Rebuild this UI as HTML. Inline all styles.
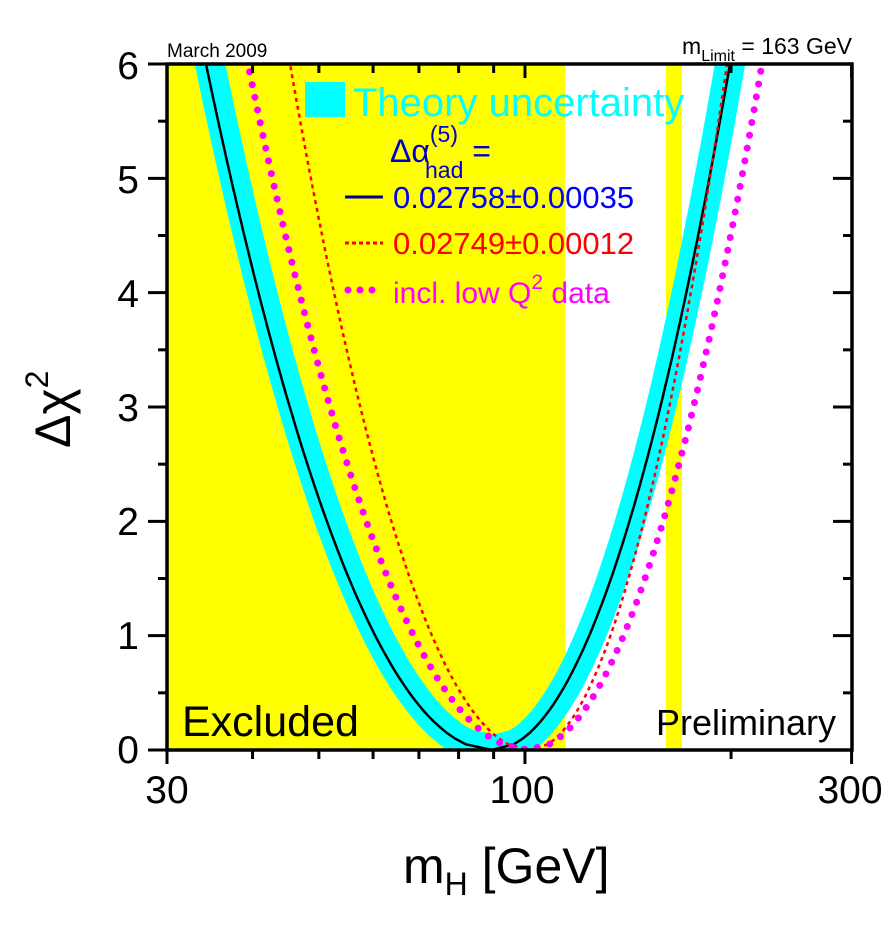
<!DOCTYPE html>
<html><head><meta charset="utf-8"><style>
html,body{margin:0;padding:0;background:#fff;}
svg{display:block;font-family:"Liberation Sans",sans-serif;}
</style></head><body>
<svg id="s" width="894" height="930" viewBox="0 0 894 930" xmlns="http://www.w3.org/2000/svg">
<defs><clipPath id="c"><rect x="167" y="64" width="685" height="686"/></clipPath></defs>
<rect x="167" y="64" width="398" height="686" fill="#ffff00"/>
<rect x="666" y="64" width="16" height="686" fill="#ffff00"/>
<g clip-path="url(#c)" fill="none">
<path id="cy" stroke="#00ffff" stroke-width="30"/>
<path id="bk" stroke="#000" stroke-width="2.5"/>
<path id="rd" stroke="#ff0000" stroke-width="2.5" stroke-dasharray="4,4"/>
<path id="mg" stroke="#ff00ff" stroke-width="7" stroke-linecap="round" stroke-dasharray="0,13"/>
</g>
<rect x="167" y="64" width="685" height="686" fill="none" stroke="#000" stroke-width="3.5"/>
<g id="ticks" stroke="#000" stroke-width="3"></g>
<g font-size="39" text-anchor="end">
<text x="139" y="763">0</text><text x="139" y="649">1</text><text x="139" y="535">2</text>
<text x="139" y="421">3</text><text x="139" y="307">4</text><text x="139" y="193">5</text><text x="139" y="79">6</text>
</g>
<g font-size="39" text-anchor="middle">
<text x="167" y="803">30</text><text x="522" y="803">100</text><text x="850" y="803">300</text>
</g>
<text x="403" y="883" font-size="50">m<tspan font-size="32" dy="12">H</tspan><tspan dy="-12"> [GeV]</tspan></text>
<text transform="translate(70,448) rotate(-90)" font-size="50">Δχ<tspan font-size="32" dy="-22">2</tspan></text>
<text x="167" y="57" font-size="19">March 2009</text>
<text x="852" y="54" font-size="23" text-anchor="end">m<tspan font-size="16" dy="7">Limit</tspan><tspan dy="-7"> = 163 GeV</tspan></text>
<text x="182" y="736" font-size="43">Excluded</text>
<text x="836" y="735" font-size="36" text-anchor="end">Preliminary</text>
<rect x="305" y="82" width="40" height="35" fill="#00ffff"/>
<text x="353" y="116" font-size="40" fill="#00ffff">Theory uncertainty</text>
<text x="390" y="162" font-size="32" fill="#0000cc">Δα<tspan font-size="23" dy="-20">(5)</tspan><tspan font-size="23" dx="-33" dy="36">had</tspan><tspan font-size="32" dy="-16"> =</tspan></text>
<line x1="345" y1="197" x2="383" y2="197" stroke="#000080" stroke-width="3"/>
<text x="393" y="208" font-size="31" fill="#0000ff">0.02758±0.00035</text>
<line x1="345" y1="243" x2="383" y2="243" stroke="#ff0000" stroke-width="3" stroke-dasharray="4,3"/>
<text x="393" y="254" font-size="31" fill="#ff0000">0.02749±0.00012</text>
<line x1="348" y1="290" x2="383" y2="290" stroke="#ff00ff" stroke-width="7" stroke-linecap="round" stroke-dasharray="0,12"/>
<text x="393" y="303" font-size="30" fill="#ff00ff">incl. low Q<tspan font-size="21" dy="-14">2</tspan><tspan dy="14"> data</tspan></text>
</svg>
<script>
function Y(v){return 750-v*114.33;}
function path(c,wl,wr){var d="";for(var v=6.6;v>=0;v-=0.05){var x=c-wl*Math.sqrt(v/6);d+=(d?"L":"M")+x.toFixed(1)+","+Y(v).toFixed(1);}
for(var v=0;v<=6.6;v+=0.05){var x=c+wr*Math.sqrt(v/6);d+="L"+x.toFixed(1)+","+Y(v).toFixed(1);}return d;}
document.getElementById("cy").setAttribute("d",path(494,284,236));
document.getElementById("bk").setAttribute("d",path(492,286,238));
document.getElementById("rd").setAttribute("d",path(530,240,197));
document.getElementById("mg").setAttribute("d",path(528,280,234));
var t="";function X(m){return 167+684.6*Math.log10(m/30);}
for(var v=0;v<=6;v+=0.5){var L=(v%1==0)?19:9;var y=Y(v);t+='<line x1="'+(167-L)+'" y1="'+y+'" x2="167" y2="'+y+'"/><line x1="'+(852-L)+'" y1="'+y+'" x2="852" y2="'+y+'"/>';}
[30,40,50,60,70,80,90,100,200,300].forEach(function(m){var x=X(m);var L=(m==30||m==100||m==300)?14:9;t+='<line x1="'+x+'" y1="750" x2="'+x+'" y2="'+(750+L)+'"/><line x1="'+x+'" y1="64" x2="'+x+'" y2="'+(64+L)+'"/>';});
document.getElementById("ticks").innerHTML=t;
</script>
</body></html>
